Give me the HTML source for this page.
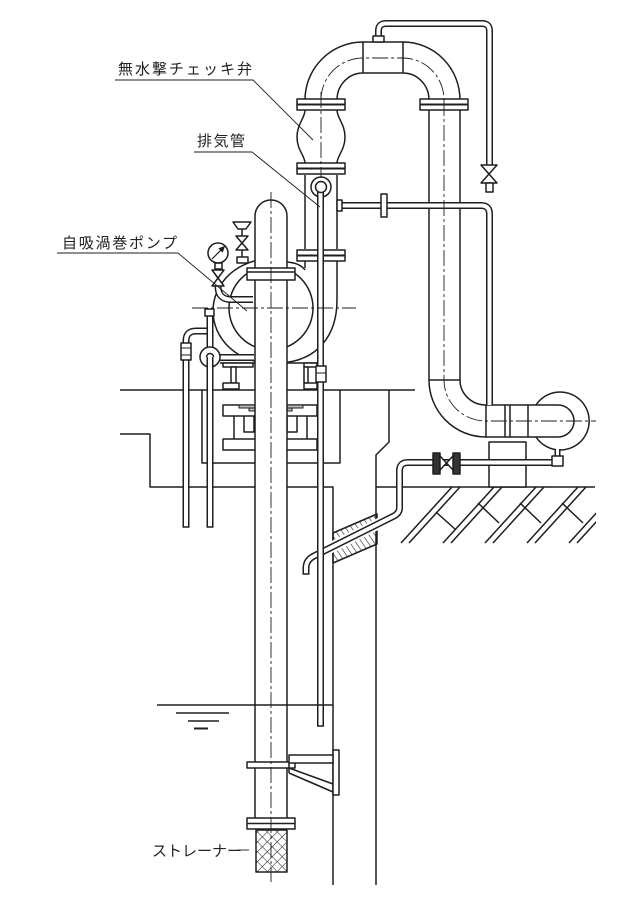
<!DOCTYPE html>
<html><head><meta charset="utf-8"><style>html,body{margin:0;padding:0;background:#fff}svg{display:block}</style></head>
<body>
<svg xmlns="http://www.w3.org/2000/svg" width="640" height="897" viewBox="0 0 640 897">
<defs>
<pattern id="xh" width="7" height="7" patternUnits="userSpaceOnUse" patternTransform="rotate(45)"><path d="M0,0V7M0,0H7" stroke="#222" stroke-width="1.1" fill="none"/></pattern>
<pattern id="sh" width="5" height="10" patternUnits="userSpaceOnUse" patternTransform="rotate(-35)"><path d="M0,0V10" stroke="#222" stroke-width="1.2"/></pattern>
<clipPath id="gc"><rect x="396" y="487" width="200" height="57"/></clipPath>
</defs>
<rect width="640" height="897" fill="#fff"/>
<g fill="none" stroke="#1e1e1e" stroke-width="1.5" stroke-linejoin="round">

<!-- walls / ground -->
<path d="M120,390H415 M120,434H150V487H333V885 M202,390V463H340V390 M389,390V442L376,455V885 M376,487H595"/>
<g clip-path="url(#gc)">
<path d="M452,487L401,543 M460,487L409,543 M494,487L443,543 M502,487L451,543 M536,487L485,543 M544,487L493,543 M578,487L527,543 M586,487L535,543 M620,487L569,543 M628,487L577,543
M436,512L456,530 M478,503L499,523 M520,503L541,523 M562,503L583,523 M604,503L625,523"/>
</g>

<!-- foundation -->
<rect x="223" y="405" width="94" height="11" fill="#fff"/>
<rect x="239" y="405" width="64" height="3" fill="#bbb" stroke-width="1"/>
<rect x="249" y="408" width="43" height="3" fill="#bbb" stroke-width="1"/>
<path d="M234,416V439 M307,416V439 M244,416V432H254V416 M287,416V432H297V416"/>
<rect x="223" y="439" width="94" height="11" fill="#fff"/>

<!-- support block -->
<rect x="489" y="442" width="37" height="45" fill="#fff"/>

<!-- pump casing -->
<path d="M270,259A57,52 0 0 0 270,363"/>
<path d="M287,262Q300,263 305,270 M337,300C337,335 318,361 280,363"/>
<circle cx="271" cy="308" r="42"/>
<path d="M220,363H320"/>
<rect x="223" y="363" width="30" height="4" fill="#fff"/><rect x="231" y="367" width="5" height="16" fill="#fff"/><rect x="223" y="383" width="16" height="6" fill="#fff"/>
<rect x="304" y="363" width="13" height="4" fill="#fff"/><rect x="304" y="367" width="4" height="16" fill="#fff"/><rect x="304" y="383" width="13" height="6" fill="#fff"/>

<!-- left riser + check valve -->
<path d="M305,175V249 M337,175V249 M305,261V268 M337,261V300"/>
<path d="M305,110C305,118 297,124 297,137C297,150 305,156 305,163 M337,110C337,118 345,124 345,137C345,150 337,156 337,163"/>

<!-- top bend -->
<path d="M305,100A58,58 0 0 1 363,42H403A57,58 0 0 1 460,100 M337,100A26,27 0 0 1 363,73H403A26,27 0 0 1 429,100 M363,42V73 M403,42V73"/>
<!-- right riser + bottom bend -->
<path d="M429,110V380A57,57 0 0 0 486,437H558 M460,110V380A26,25 0 0 0 486,405H558 M429,380H460"/>
<path d="M486,405V437 M505,405V437 M510,405V437 M528,405V437"/>
<path d="M558,405A16,16 0 0 1 558,437"/>
<path d="M536,405A29,29 0 1 1 536,437"/>

<!-- flanges -->
<rect x="297" y="99" width="48" height="11" fill="#fff"/><path d="M297,104.5H345" stroke-width="2"/>
<rect x="420" y="99" width="48" height="11" fill="#fff"/><path d="M420,104.5H468" stroke-width="2"/>
<rect x="297" y="163" width="48" height="11" fill="#fff"/><path d="M297,168.5H345" stroke-width="2"/>
<rect x="297" y="250" width="48" height="11" fill="#fff"/><path d="M297,255.5H345" stroke-width="2"/>

<!-- top bypass -->
<path d="M378.5,37V31Q378.5,23.5 386,23.5H482Q489.5,23.5 489.5,31V165" stroke-width="7"/>
<path d="M378.5,37V31Q378.5,23.5 386,23.5H482Q489.5,23.5 489.5,31V165" stroke="#fff" stroke-width="4"/>
<rect x="373" y="36" width="11" height="6" fill="#fff"/>
<path d="M481,165H497L481,183H497Z" fill="#fff"/>
<rect x="486" y="183" width="7" height="9" fill="#fff"/>

<!-- side branch -->
<path d="M342,205.5H481Q489.5,205.5 489.5,214V405" stroke-width="7"/>
<path d="M342,205.5H481Q489.5,205.5 489.5,214V405" stroke="#fff" stroke-width="4"/>
<rect x="337" y="200" width="5" height="11" fill="#fff"/>
<rect x="381" y="194" width="6" height="23" fill="#fff"/>

<!-- sleeve -->
<polygon points="333,533 377,514 377,544 333,563" fill="url(#sh)"/>

<!-- lower discharge pipe -->
<path d="M399.5,505V508Q399.5,513 394,516L314,556" stroke="#fff" stroke-width="11"/>
<path d="M555,462.5H408Q399.5,462.5 399.5,471V508Q399.5,513 394,516L314,556Q306,560 306,568V574" stroke-width="7"/>
<path d="M555,462.5H408Q399.5,462.5 399.5,471V508Q399.5,513 394,516L314,556Q306,560 306,568V574" stroke="#fff" stroke-width="4"/>
<path d="M302.5,574H309.5"/>
<rect x="433" y="453" width="7" height="21" fill="#333"/>
<rect x="453" y="453" width="7" height="21" fill="#333"/>
<path d="M440,456L453,470V456L440,470Z" fill="#fff"/>
<path d="M557.5,449V456" stroke-width="6"/><path d="M557.5,449V456" stroke="#fff" stroke-width="3"/>
<rect x="552" y="456" width="11" height="10" fill="#fff"/>

<!-- left accessories -->
<path d="M186,527V341Q186,331 196,331H207" stroke-width="7"/>
<path d="M186,527V341Q186,331 196,331H207" stroke="#fff" stroke-width="4"/>
<rect x="181" y="343" width="10" height="17" fill="#fff"/><path d="M181,348H191 M181,355H191" stroke-width="1"/>
<path d="M210,316V347" stroke-width="7"/><path d="M210,316V347" stroke="#fff" stroke-width="4"/>
<rect x="205" y="309" width="9" height="7" fill="#fff"/>
<path d="M220,357.5H254" stroke-width="7"/><path d="M220,357.5H254" stroke="#fff" stroke-width="4"/>
<circle cx="210" cy="357" r="10" fill="#fff"/>
<path d="M210,527V357" stroke-width="7"/><path d="M210,527V357" stroke="#fff" stroke-width="4"/>
<path d="M206.5,357A3.5,3.5 0 0 1 213.5,357"/>
<path d="M182.5,527H189.5 M206.5,527H213.5"/>

<!-- gauge -->
<path d="M218,286Q218,299.5 231,299.5H253" stroke-width="7"/>
<path d="M218,286Q218,299.5 231,299.5H253" stroke="#fff" stroke-width="4"/>
<rect x="215" y="263" width="7" height="6" fill="#fff"/>
<path d="M212,270H224L218,278Z M218,278L224,286H212Z" fill="#fff"/>
<circle cx="218" cy="253" r="10" fill="#fff"/>
<path d="M212,259L223,248" stroke-width="1.2"/>
<path d="M224.5,246.5L219,248.5L222.5,252Z" fill="#1e1e1e" stroke-width="0.8"/>

<!-- priming funnel + valve -->
<path d="M233,222H251L246,229H238Z" fill="#fff"/>
<path d="M242,229V236 M242,250V257"/>
<path d="M236,236H248L242,243Z M242,243L248,250H236Z" fill="#fff"/>
<rect x="237" y="257" width="11" height="6" fill="#fff"/>

<!-- suction pipe -->
<path d="M255,818V216A16,16 0 0 1 287,216V818" fill="#fff"/>
<rect x="247" y="268" width="48" height="12" fill="#fff"/><path d="M247,272H295"/>
<rect x="247" y="762" width="48" height="6" fill="#fff"/>
<rect x="247" y="818" width="48" height="11" fill="#fff"/><path d="M247,823.5H295"/>
<rect x="256" y="830" width="31" height="42" fill="url(#xh)"/>

<!-- air vent pipe -->
<circle cx="321" cy="187" r="10" fill="#fff"/>
<path d="M320.5,192V726" stroke-width="7"/><path d="M320.5,192V726" stroke="#fff" stroke-width="4"/>
<path d="M317,726H324"/>
<circle cx="321" cy="187" r="5.5" fill="#fff"/>
<rect x="316" y="366" width="10" height="16" fill="#fff"/><path d="M316,373H326" stroke-width="1"/>

<!-- bracket -->
<rect x="333" y="750" width="6" height="45" fill="#fff"/>
<rect x="289" y="755" width="44" height="8" fill="#fff"/>
<path d="M289,763V773 M289,768L333,784 M289,773L333,792"/>

<!-- water level -->
<path d="M157,705H333 M176,713H229 M188,721H219"/>
<path d="M194,728.5H208" stroke-width="2"/>

<!-- centerlines -->
<g stroke-width="0.9" stroke-dasharray="16 3 3 3">
<path d="M321,92V178"/>
<path d="M321,100A42,42 0 0 1 363,58H403A41,42 0 0 1 444,100"/>
<path d="M444,100V380A42,41 0 0 0 486,421H596"/>
<path d="M271,192V882"/>
<path d="M192,308H356"/>
</g>

<!-- leaders -->
<g stroke-width="0.9">
<path d="M115,80H253L313,140"/>
<path d="M194,152H252L320,207"/>
<path d="M57,253H178L247,311"/>
<path d="M238,850H249"/>
</g>
</g>

<g font-family="'Liberation Sans','Noto Sans CJK JP',sans-serif" font-size="15" fill="#222">
<text x="118" y="74" textLength="134" lengthAdjust="spacing">無水撃チェッキ弁</text>
<text x="197" y="146" textLength="48" lengthAdjust="spacing">排気管</text>
<text x="62" y="248" textLength="115" lengthAdjust="spacing">自吸渦巻ポンプ</text>
<text x="152" y="856" textLength="90" lengthAdjust="spacing">ストレーナー</text>
</g>
</svg>
</body></html>
